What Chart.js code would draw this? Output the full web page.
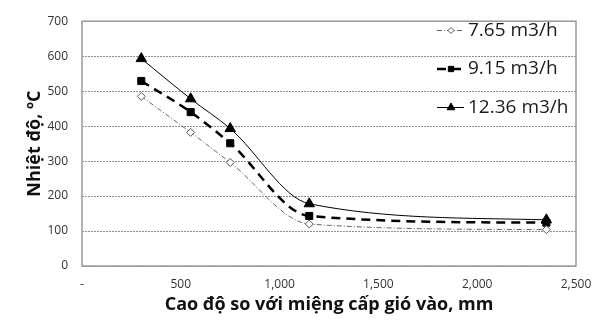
<!DOCTYPE html>
<html>
<head>
<meta charset="utf-8">
<script src="https://cdn.jsdelivr.net/npm/chart.js@4.4.1/dist/chart.umd.min.js"></script>
<style>
html,body{margin:0;padding:0;background:#fff;}
#wrap{width:607px;height:320px;position:relative;}
</style>
</head>
<body>
<div id="wrap"><canvas id="c" width="607" height="320"></canvas></div>
<script>
const heights = [300, 550, 750, 1150, 2350];
const seriesLabels = ['7.65 m3/h', '9.15 m3/h', '12.36 m3/h'];
const temp765 = [485, 382, 296, 120, 104];
const temp915 = [529, 440, 351, 143, 124];
const temp1236 = [593, 478, 393, 178, 132];
const xTicks = [0, 500, 1000, 1500, 2000, 2500];
const yTicks = [0, 100, 200, 300, 400, 500, 600, 700];

function pts(vals){ return heights.map((h,i)=>({x:h,y:vals[i]})); }

const FONT = "'Open Sans', 'Liberation Sans', sans-serif";

const legendPlugin = {
  id: 'customLegend',
  afterDraw(chart){
    const ctx = chart.ctx;
    const textX = 468;
    chart.data.datasets.forEach((ds, i) => {
      const y = 30.5 + i * 38.5;
      ctx.save();
      ctx.strokeStyle = ds.borderColor;
      ctx.lineWidth = ds.borderWidth;
      ctx.setLineDash(ds.borderDash || []);
      ctx.beginPath();
      ctx.moveTo(textX - 31, y);
      ctx.lineTo(textX - 4, y);
      ctx.stroke();
      ctx.setLineDash([]);
      ctx.fillStyle = ds.pointBackgroundColor;
      ctx.strokeStyle = ds.pointBorderColor;
      ctx.lineWidth = 1;
      Chart.helpers.drawPoint(ctx, {
        pointStyle: ds.pointStyle,
        radius: ds.pointRadius * 0.75,
        rotation: 0,
        borderWidth: 1
      }, textX - 17, y);
      ctx.fillStyle = '#1a1a1a';
      ctx.font = "19px " + FONT;
      ctx.textAlign = 'left';
      ctx.textBaseline = 'middle';
      ctx.fillText(ds.label, textX, y);
      ctx.restore();
    });
  }
};

const framePlugin = {
  id: 'frame',
  afterDatasetsDraw(chart){
    const a = chart.chartArea, ctx = chart.ctx;
    ctx.save();
    ctx.strokeStyle = '#9a9a9a';
    ctx.lineWidth = 1.5;
    ctx.strokeRect(a.left, a.top, a.right - a.left, a.bottom - a.top);
    ctx.restore();
  }
};

new Chart(document.getElementById('c'), {
  type: 'line',
  data: {
    datasets: [
      {
        label: seriesLabels[0], data: pts(temp765),
        borderColor: '#666', borderWidth: 1, borderDash: [5,2,1,2],
        pointStyle: 'rectRot', pointRadius: 4, pointBackgroundColor: '#fff',
        pointBorderColor: '#555', pointBorderWidth: 1, cubicInterpolationMode: 'monotone'
      },
      {
        label: seriesLabels[1], data: pts(temp915),
        borderColor: '#000', borderWidth: 2.5, borderDash: [9,6],
        pointStyle: 'rect', pointRadius: 5, pointBackgroundColor: '#000',
        pointBorderColor: '#000', pointBorderWidth: 1, cubicInterpolationMode: 'monotone'
      },
      {
        label: seriesLabels[2], data: pts(temp1236),
        borderColor: '#000', borderWidth: 1,
        pointStyle: 'triangle', pointRadius: 6, pointBackgroundColor: '#000',
        pointBorderColor: '#000', pointBorderWidth: 1, cubicInterpolationMode: 'monotone'
      }
    ]
  },
  options: {
    responsive: false,
    animation: false,
    layout: { padding: { top: 17, right: 31, left: 20, bottom: 0 } },
    plugins: { legend: { display: false }, tooltip: { enabled: false } },
    scales: {
      x: {
        type: 'linear', min: 0, max: 2500,
        afterBuildTicks(s){ s.ticks = xTicks.map(v=>({value:v})); },
        afterFit(s){ s.height = 54; },
        grid: { display: false, drawTicks: false },
        border: { display: false },
        ticks: {
          padding: 11, color: '#333', font: { size: 12, family: FONT },
          callback: v => v === 0 ? '-' : v.toLocaleString('en-US')
        },
        title: {
          display: true, text: 'Cao độ so với miệng cấp gió vào, mm',
          color: '#111', font: { size: 18, weight: 'bold', family: FONT }, padding: { top: 3 }
        }
      },
      y: {
        min: 0, max: 700,
        afterBuildTicks(s){ s.ticks = yTicks.map(v=>({value:v})); },
        afterFit(s){ s.width = 62; },
        grid: { color: '#8f8f8f', lineWidth: 1, drawTicks: false },
        border: { display: false, dash: [2,1] },
        ticks: { padding: 14, color: '#333', font: { size: 12, family: FONT } },
        title: {
          display: true, text: 'Nhiệt độ, ºC',
          color: '#111', font: { size: 18, weight: 'bold', family: FONT }, padding: { bottom: 0 }
        }
      }
    }
  },
  plugins: [framePlugin, legendPlugin]
});
</script>
</body>
</html>
